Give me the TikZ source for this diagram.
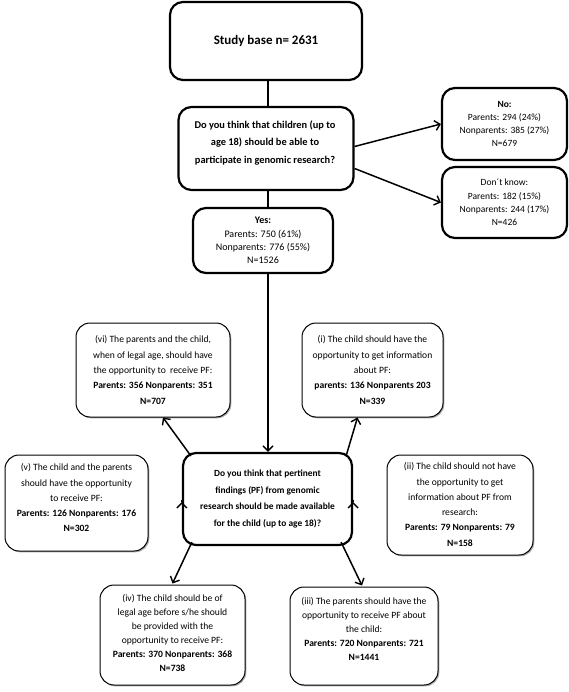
\documentclass[tikz,border=0pt]{standalone}
\usepackage{fontspec}
\setmainfont{Carlito}
\usetikzlibrary{arrows.meta,calc,shadows}
\begin{document}
\begin{tikzpicture}[x=1pt,y=-1pt,
  thickbox/.style={draw, line width=2.2pt, rounded corners=13pt, fill=white, align=center, inner sep=0pt},
  thinbox/.style={draw, line width=1pt, rounded corners=14pt, fill=white,
    drop shadow={shadow xshift=1.3pt,shadow yshift=-1.3pt,fill=black!55,opacity=0.6}, inner sep=0pt},
  small/.style={font=\fontsize{9.5}{13.3}\selectfont, align=center},
  body/.style={font=\fontsize{9.6}{15.3}\selectfont, align=center, inner sep=0pt},
  conn/.style={line width=1.5pt},
  arr/.style={conn, -{Straight Barb[length=5pt,width=10pt,line width=1.4pt]}}
]
\useasboundingbox (0,0) rectangle (568,692);
\coordinate (spine) at (268,0);

% main column
\node[thickbox, minimum width=192pt, minimum height=78pt, font=\bfseries\fontsize{13}{15}\selectfont] (base) at (266,41) {Study base n= 2631};
\node[thickbox, minimum width=175pt, minimum height=83pt] (q1) at (266,148.5) {};
\node[font=\bfseries\fontsize{10.4}{17.5}\selectfont, align=center] (q1t) at (265,143)
  {Do you think that children (up to\\age 18) should be able to\\participate in genomic research?};
\node[thickbox, minimum width=140pt, minimum height=65pt, small, font=\fontsize{10}{13.3}\selectfont] (yes) at (263,240.5)
  {\textbf{Yes:}\\Parents: 750 (61\%)\\Nonparents: 776 (55\%)\\N=1526};
\node[thickbox, minimum width=169pt, minimum height=92pt, font=\bfseries\fontsize{9.4}{16.5}\selectfont] (q2) at (267.5,499)
  {Do you think that pertinent\\findings (PF) from genomic\\research should be made available\\for the child (up to age 18)?};

% right column
\node[thickbox, minimum width=125pt, minimum height=72pt, small] (no) at (504.5,124)
  {\textbf{No:}\\Parents: 294 (24\%)\\Nonparents: 385 (27\%)\\N=679};
\node[thickbox, minimum width=125pt, minimum height=71pt, small] (dk) at (504.5,202.5)
  {Don´t know:\\Parents: 182 (15\%)\\Nonparents: 244 (17\%)\\N=426};

% answer boxes
\node[thinbox, minimum width=154pt, minimum height=94pt] (vi) at (153,370) {};
\node[thinbox, minimum width=141pt, minimum height=94pt] (i) at (372.5,370) {};
\node[thinbox, minimum width=143pt, minimum height=96pt] (v) at (76.5,503) {};
\node[thinbox, minimum width=146pt, minimum height=100pt] (ii) at (460,505) {};
\node[thinbox, minimum width=145pt, minimum height=100pt] (iv) at (172.5,635) {};
\node[thinbox, minimum width=148pt, minimum height=98pt] (iii) at (364,636) {};

\node[body] (vit) at (vi.center)
  {(vi) The parents and the child,\\when of legal age, should have\\the opportunity to\ \ receive PF:\\\textbf{Parents: 356 Nonparents: 351}\\\textbf{N=707}};
\node[body] (it) at (i.center)
  {(i) The child should have the\\opportunity to get information\\about PF:\\\textbf{parents: 136 Nonparents 203}\\\textbf{N=339}};
\node[body, anchor=north] (vt) at ($(v.north)+(0,9)$)
  {(v) The child and the parents\\should have the opportunity\\to receive PF:\\\textbf{Parents: 126 Nonparents: 176}\\\textbf{N=302}};
\node[body, anchor=north] (iit) at ($(ii.north)+(0,8)$)
  {(ii) The child should not have\\the opportunity to get\\information about PF from\\research:\\\textbf{Parents: 79 Nonparents: 79}\\\textbf{N=158}};
\node[body, anchor=north, font=\fontsize{9.6}{14}\selectfont] (ivt) at ($(iv.north)+(0,10)$)
  {(iv) The child should be of\\legal age before s/he should\\be provided with the\\opportunity to receive PF:\\\textbf{Parents: 370 Nonparents: 368}\\\textbf{N=738}};
\node[body, anchor=north, font=\fontsize{9.6}{14}\selectfont] (iiit) at ($(iii.north)+(0,11)$)
  {(iii) The parents should have the\\opportunity to receive PF about\\the child:\\\textbf{Parents: 720 Nonparents: 721}\\\textbf{N=1441}};

% connectors
\draw[conn] (base.south -| spine) -- (q1.north -| spine);
\draw[conn] (q1.south -| spine) -- (yes.north -| spine);
\draw[arr] (yes.south -| spine) -- (q2.north -| spine);
\draw[arr] ($(q1.east)+(0,-2)$) -- (no.west);
\draw[arr] ($(q1.east)+(0,20)$) -- (dk.west);
\draw[arr] ($(q2.north west)+(9,4)$) -- ($(vi.south)+(10,0)$);
\draw[arr] ($(q2.north east)+(-7,4)$) -- ($(i.south)+(-15,0)$);
\draw[arr] ($(q2.west)+(0,3)$) -- ($(q2.west)+(0,3)$ -| v.east);
\draw[arr] ($(q2.east)+(0,3)$) -- ($(q2.east)+(0,3)$ -| ii.west);
\draw[arr] ($(q2.south west)+(10,-4)$) -- ($(iv.north)+(0,-1)$);
\draw[arr] ($(q2.south east)+(-12,-4)$) -- ($(iii.north)+(-2,-1)$);
\end{tikzpicture}
\end{document}
